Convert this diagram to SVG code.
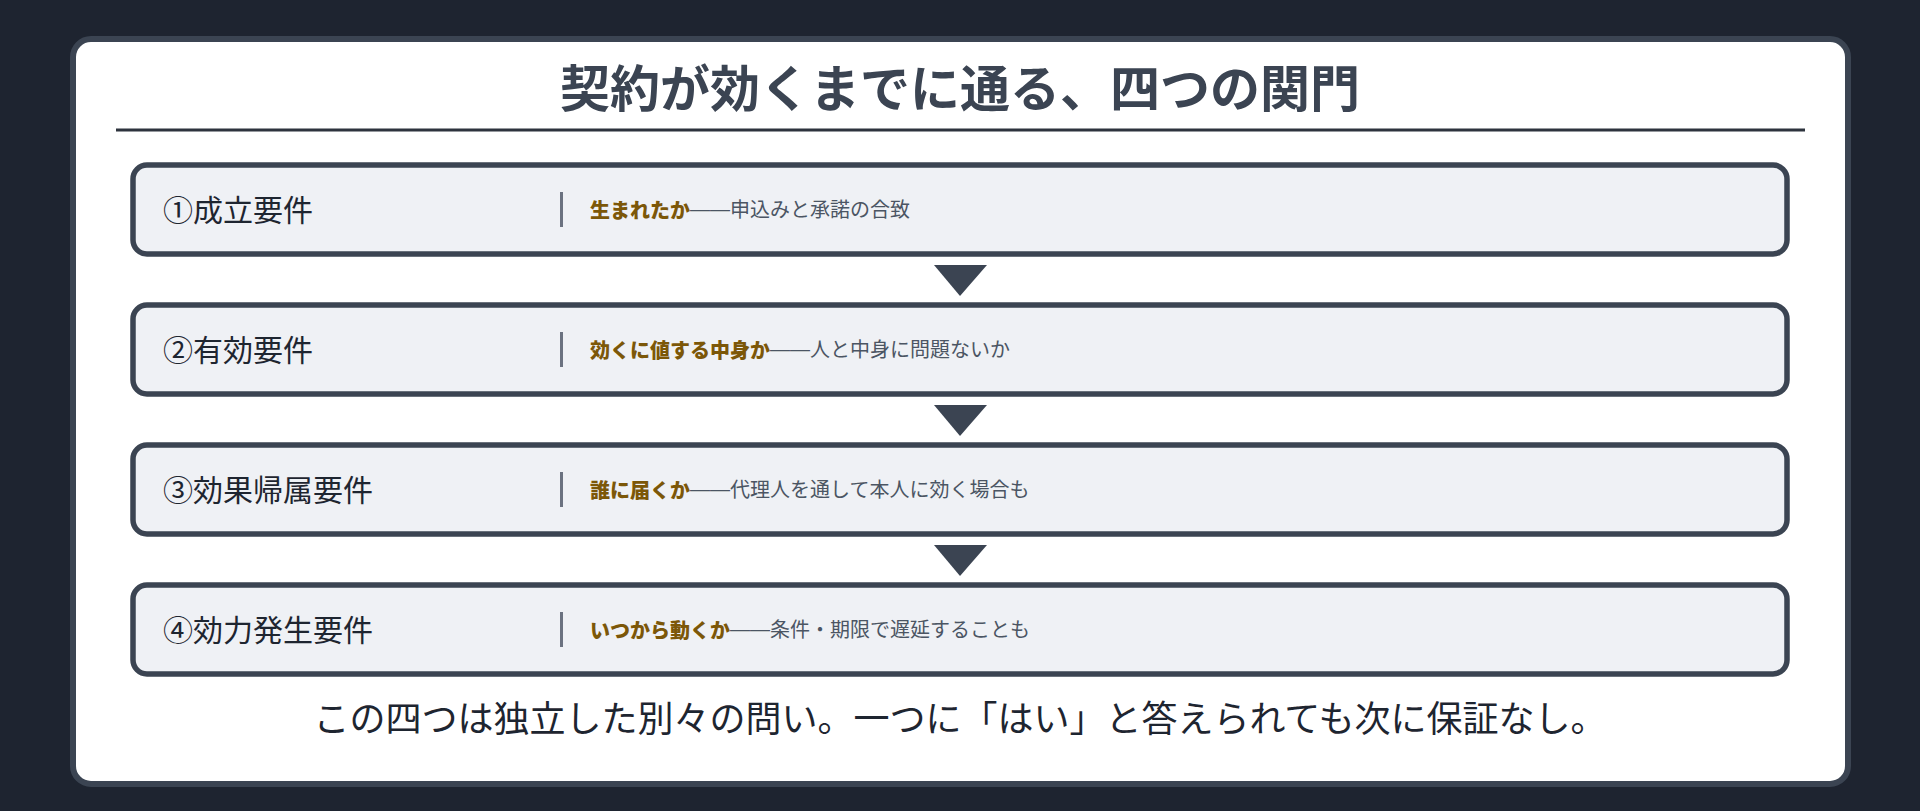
<svg xmlns="http://www.w3.org/2000/svg" width="1920" height="811" viewBox="0 0 1920 811">
  <style>
    text { font-family: "Noto Sans CJK JP", "Noto Sans", sans-serif; }
    .title { font-size: 50px; font-weight: 700; fill: #3b4452; }
    .row { fill: #eff1f5; stroke: #3b4452; stroke-width: 5.5; }
    .label { font-size: 30px; fill: #1e2530; }
    .sep { stroke: #6b7280; stroke-width: 3; }
    .desc { font-size: 20px; fill: #4b5563; }
    .key { font-weight: 900; fill: #7c5708; }
    .dash { font-family: "Liberation Sans", "Noto Sans CJK JP", sans-serif; }
    .arrow { fill: #3b4452; }
    .note { font-size: 36px; fill: #1e2530; }
  </style>
  <rect x="0" y="0" width="1920" height="811" fill="#1e2430"/>
  <rect x="73" y="39" width="1775" height="745" rx="18" fill="#ffffff" stroke="#3b4452" stroke-width="6"/>
  <text class="title" x="960" y="85" text-anchor="middle" dominant-baseline="central">契約が効くまでに通る、四つの関門</text>
  <line x1="116" y1="130" x2="1805" y2="130" stroke="#2d333d" stroke-width="3"/>

  <g id="connectors">
    <polygon class="arrow" points="934,265 987,265 960,296"/>
    <polygon class="arrow" points="934,405 987,405 960,436"/>
    <polygon class="arrow" points="934,545 987,545 960,576"/>
  </g>

  <g id="node1">
    <rect class="row" x="133" y="165" width="1654" height="89" rx="14"/>
    <text class="label" x="163" y="207.5" dominant-baseline="central">①成立要件</text>
    <line class="sep" x1="561.5" y1="192" x2="561.5" y2="227"/>
    <text class="desc" x="590" y="208.5" dominant-baseline="central"><tspan class="key">生まれたか</tspan><tspan class="dash">——</tspan>申込みと承諾の合致</text>
  </g>

  <g id="node2">
    <rect class="row" x="133" y="305" width="1654" height="89" rx="14"/>
    <text class="label" x="163" y="347.5" dominant-baseline="central">②有効要件</text>
    <line class="sep" x1="561.5" y1="332" x2="561.5" y2="367"/>
    <text class="desc" x="590" y="348.5" dominant-baseline="central"><tspan class="key">効くに値する中身か</tspan><tspan class="dash">——</tspan>人と中身に問題ないか</text>
  </g>

  <g id="node3">
    <rect class="row" x="133" y="445" width="1654" height="89" rx="14"/>
    <text class="label" x="163" y="487.5" dominant-baseline="central">③効果帰属要件</text>
    <line class="sep" x1="561.5" y1="472" x2="561.5" y2="507"/>
    <text class="desc" x="590" y="488.5" dominant-baseline="central"><tspan class="key">誰に届くか</tspan><tspan class="dash">——</tspan>代理人を通して本人に効く場合も</text>
  </g>

  <g id="node4">
    <rect class="row" x="133" y="585" width="1654" height="89" rx="14"/>
    <text class="label" x="163" y="627.5" dominant-baseline="central">④効力発生要件</text>
    <line class="sep" x1="561.5" y1="612" x2="561.5" y2="647"/>
    <text class="desc" x="590" y="628.5" dominant-baseline="central"><tspan class="key">いつから動くか</tspan><tspan class="dash">——</tspan>条件・期限で遅延することも</text>
  </g>

  <text class="note" x="960" y="715.5" text-anchor="middle" dominant-baseline="central">この四つは独立した別々の問い。一つに「はい」と答えられても次に保証なし。</text>
</svg>
